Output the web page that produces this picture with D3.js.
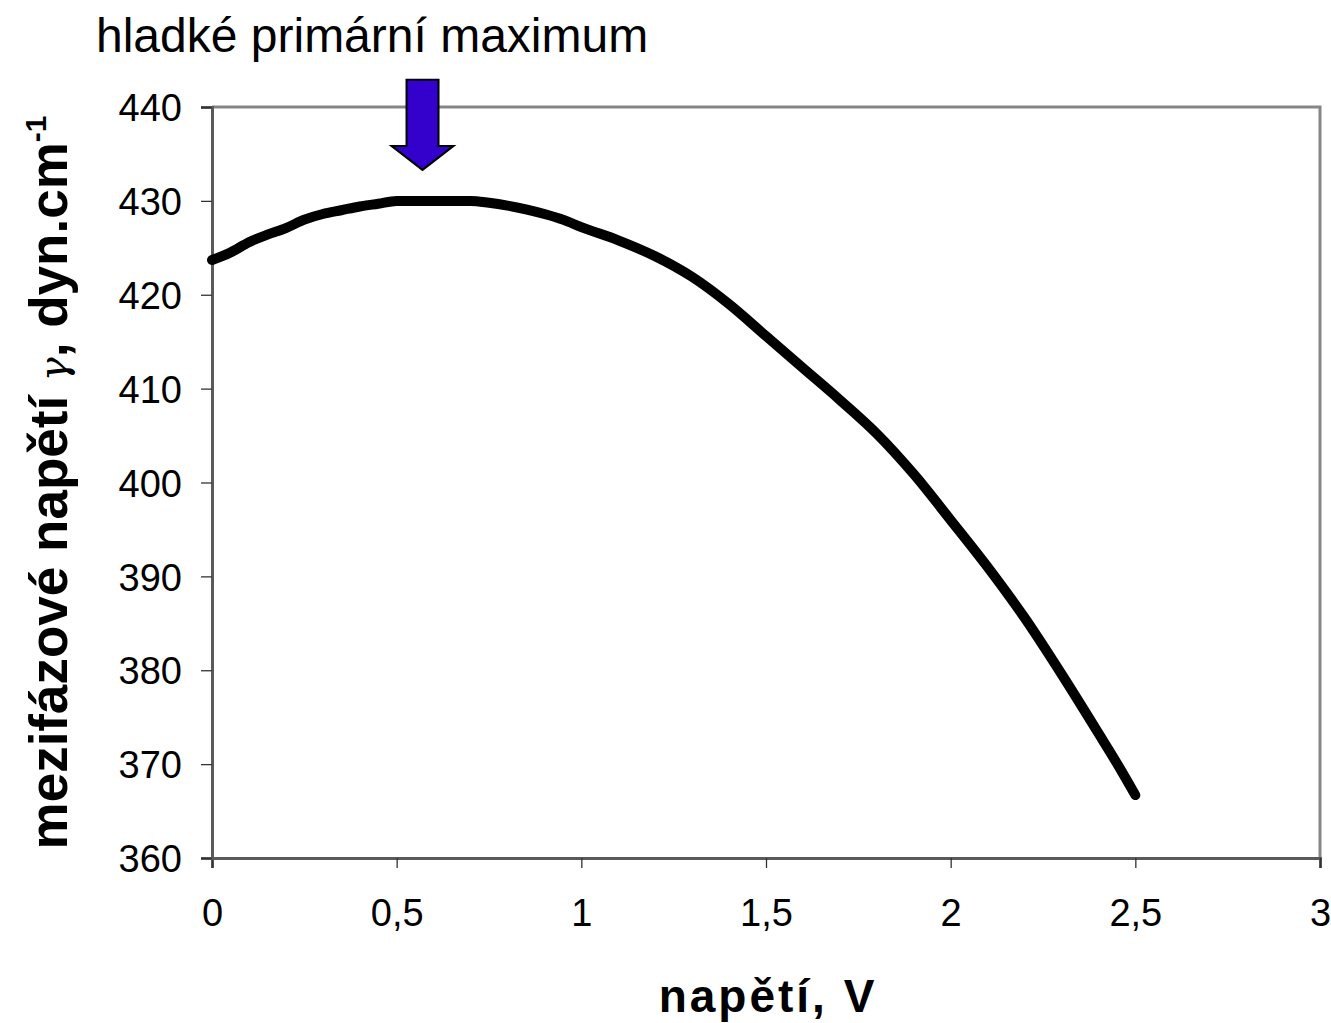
<!DOCTYPE html>
<html lang="cs">
<head>
  <meta charset="UTF-8">
  <title>Mezifázové napětí</title>
  <style>
    body {
      margin: 0;
      background: #fff;
      overflow: hidden;
    }
    text {
      font-family: "Liberation Sans", Arial, sans-serif;
      fill: #000;
    }
  </style>
</head>
<body>
  <script src="https://d3js.org/d3.v7.min.js"></script>
  <script>
    // napětí (V) a mezifázové napětí (dyn/cm)
    const voltage = [0, 0.05, 0.1, 0.15, 0.2, 0.25, 0.3, 0.35, 0.4, 0.45, 0.5, 0.55, 0.6, 0.65, 0.7, 0.75, 0.8, 0.85, 0.9, 0.95,
      1.0, 1.1, 1.2, 1.3, 1.4, 1.5, 1.6, 1.7, 1.8, 1.9, 2.0, 2.1, 2.2, 2.3, 2.4, 2.45, 2.5];
    const tension = [423.7, 424.5, 425.6, 426.4, 427.1, 428.0, 428.6, 429.0, 429.4, 429.7, 430.0, 430.0, 430.0, 430.0, 430.0, 429.8, 429.5, 429.1, 428.6, 428.0,
      427.2, 425.8, 424.1, 421.9, 419.0, 415.6, 412.2, 408.8, 405.2, 400.9, 396.0, 391.0, 385.6, 379.6, 373.3, 370.1, 366.7];

    const xTicks = [0, 0.5, 1, 1.5, 2, 2.5, 3];
    const yTicks = [360, 370, 380, 390, 400, 410, 420, 430, 440];

    const annotationText = 'hladké primární maximum';
    const arrowAt = { x: 0.57, yTop: 442.9, yTip: 433.3 };

    const width = 1331;
    const height = 1023;
    const margin = { top: 107, right: 11, bottom: 165, left: 212 };

    const svg = d3.select('body').append('svg')
      .attr('width', width)
      .attr('height', height);

    const x = d3.scaleLinear().domain([0, 3]).range([margin.left, width - margin.right]);
    const y = d3.scaleLinear().domain([360, 440]).range([height - margin.bottom, margin.top]);

    const fmt = d => String(d).replace('.', ',');

    // plot frame (top + right)
    svg.append('path')
      .attr('d', `M${x(0)},${y(440)}H${x(3)}V${y(360)}`)
      .attr('fill', 'none')
      .attr('stroke', '#858585')
      .attr('stroke-width', 3);

    // axes
    const xAxis = svg.append('g')
      .attr('transform', `translate(0,${y(360)})`)
      .call(d3.axisBottom(x).tickValues(xTicks).tickFormat(fmt).tickSize(10).tickPadding(31));

    const yAxis = svg.append('g')
      .attr('transform', `translate(${x(0)},0)`)
      .call(d3.axisLeft(y).tickValues(yTicks).tickSize(11).tickPadding(19));

    [xAxis, yAxis].forEach(g => {
      g.select('.domain').attr('stroke', '#5a5a5a').attr('stroke-width', 3);
      g.selectAll('.tick line').attr('stroke', '#333').attr('stroke-width', 1.3);
      g.selectAll('.tick text')
        .attr('font-family', '"Liberation Sans", Arial, sans-serif')
        .attr('font-size', 38)
        .attr('fill', '#000');
    });
    yAxis.selectAll('.tick text').attr('dy', '0.36em');

    // curve
    const points = voltage.map((v, i) => [v, tension[i]]);
    svg.append('path')
      .datum(points)
      .attr('fill', 'none')
      .attr('stroke', '#000')
      .attr('stroke-width', 10)
      .attr('stroke-linejoin', 'round')
      .attr('stroke-linecap', 'round')
      .attr('d', d3.line().x(d => x(d[0])).y(d => y(d[1])).curve(d3.curveMonotoneX));

    // arrow pointing at maximum
    const ax = x(arrowAt.x);
    const arrowTop = y(arrowAt.yTop);
    const arrowTip = y(arrowAt.yTip);
    const shaftW = 16, headW = 31, headH = 24;
    svg.append('path')
      .attr('d', `M${ax - shaftW},${arrowTop}H${ax + shaftW}V${arrowTip - headH}H${ax + headW}L${ax},${arrowTip}L${ax - headW},${arrowTip - headH}H${ax - shaftW}Z`)
      .attr('fill', '#3300cc')
      .attr('stroke', '#000')
      .attr('stroke-width', 2)
      .attr('stroke-linejoin', 'miter');

    svg.append('text')
      .attr('x', 96)
      .attr('y', 52)
      .attr('font-size', 48)
      .text(annotationText);

    // axis titles
    svg.append('text')
      .attr('x', 768)
      .attr('y', 1012)
      .attr('text-anchor', 'middle')
      .attr('font-size', 46)
      .attr('font-weight', 'bold')
      .attr('letter-spacing', 3)
      .text('napětí, V');

    const yTitle = svg.append('text')
      .attr('transform', `translate(67,${(y(360) + y(440)) / 2}) rotate(-90)`)
      .attr('text-anchor', 'middle')
      .attr('font-size', 53)
      .attr('font-weight', 'bold');
    yTitle.append('tspan').text('mezifázové napětí ');
    yTitle.append('tspan')
      .attr('font-weight', 'normal')
      .attr('font-style', 'italic')
      .attr('font-family', '"DejaVu Serif", serif')
      .attr('font-size', 40)
      .text('γ');
    yTitle.append('tspan').text(', dyn.cm');
    yTitle.append('tspan')
      .attr('font-size', 30)
      .attr('dy', -21)
      .text('-1');
  </script>
</body>
</html>
